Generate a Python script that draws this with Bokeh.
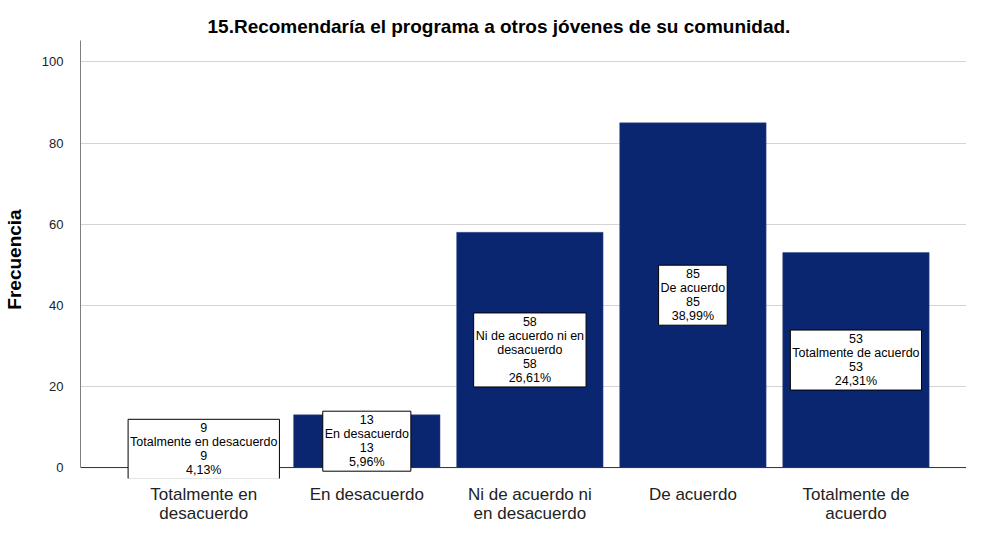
from bokeh.plotting import figure
from bokeh.models import Range1d, FixedTicker, Label, Span
from bokeh.embed import file_html
from bokeh.resources import INLINE

categories = ["Totalmente en\ndesacuerdo", "En desacuerdo", "Ni de acuerdo ni\nen desacuerdo", "De acuerdo", "Totalmente de\nacuerdo"]
box_names = ["Totalmente en desacuerdo", "En desacuerdo", "Ni de acuerdo ni en\ndesacuerdo", "De acuerdo", "Totalmente de acuerdo"]
counts = [9, 13, 58, 85, 53]
percents = ["4,13%", "5,96%", "26,61%", "38,99%", "24,31%"]
y_ticks = [0, 20, 40, 60, 80, 100]

xs = list(range(len(counts)))
Y_TOP = 105.3

p = figure(width=966, height=525, output_backend="svg", toolbar_location=None,
           x_range=Range1d(-0.756, 4.678), y_range=Range1d(-2.7, Y_TOP),
           min_border_left=78, min_border_right=0, min_border_top=40, min_border_bottom=0)

p.title.text = "15.Recomendaría el programa a otros jóvenes de su comunidad."
p.title.align = "left"
p.title.offset = 127
p.title.standoff = 8
p.title.text_font = "Liberation Sans"
p.title.text_font_size = "19px"
p.title.text_font_style = "bold"
p.title.text_color = "black"

p.vbar(x=xs, top=counts, width=0.898, bottom=0, fill_color="#0b2670", line_color="#3a4f8a", line_width=0.5)

p.add_layout(Span(location=0, dimension="width", line_color="#333333", line_width=1, level="guide"))

for x, c, n, pc in zip(xs, counts, box_names, percents):
    p.add_layout(Label(x=x, y=c / 2, text=f"{c}\n{n}\n{c}\n{pc}",
                       text_align="center", text_baseline="middle",
                       text_font="Liberation Sans", text_font_size="12.5px", text_line_height=1.0,
                       text_color="black",
                       background_fill_color="white", border_line_color="black", border_line_width=1,
                       padding=2))

p.xgrid.visible = False
p.ygrid.grid_line_color = "#d4d4d4"
p.ygrid.ticker = FixedTicker(ticks=y_ticks)

p.yaxis.ticker = FixedTicker(ticks=y_ticks)
p.yaxis.bounds = (0, Y_TOP)
p.yaxis.axis_label = "Frecuencia"
p.yaxis.axis_label_text_font = "Liberation Sans"
p.yaxis.axis_label_text_font_size = "19px"
p.yaxis.axis_label_text_font_style = "bold"
p.yaxis.axis_label_text_color = "black"
p.yaxis.axis_label_standoff = 14
p.yaxis.major_label_text_font = "Liberation Sans"
p.yaxis.major_label_text_font_size = "13px"
p.yaxis.major_label_text_color = "#222222"
p.yaxis.major_label_standoff = 11
p.yaxis.major_tick_line_color = None
p.yaxis.minor_tick_line_color = None
p.yaxis.axis_line_color = "#7f7f7f"

p.xaxis.ticker = FixedTicker(ticks=xs)
p.xaxis.major_label_overrides = {i: c for i, c in zip(xs, categories)}
p.xaxis.major_label_text_font = "Liberation Sans"
p.xaxis.major_label_text_font_size = "17px"
p.xaxis.major_label_text_color = "#222222"
p.xaxis.major_label_text_line_height = 1.0
p.xaxis.major_label_standoff = 0
p.xaxis.major_tick_line_color = None
p.xaxis.minor_tick_line_color = None
p.xaxis.axis_line_color = None

p.outline_line_color = None

open("out.html", "w").write(file_html(p, INLINE))
